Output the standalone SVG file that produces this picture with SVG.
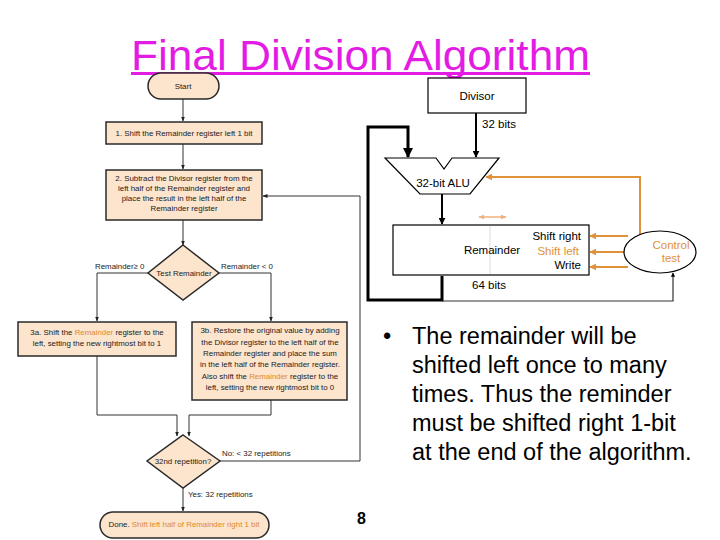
<svg xmlns="http://www.w3.org/2000/svg" width="720" height="540" viewBox="0 0 720 540">
<defs>
<style>
text{font-family:"Liberation Sans",Arial,sans-serif;}
.fc{fill:#fce4cd;stroke:#2a2a2a;stroke-width:1.5;}
.ft{font-size:7.9px;fill:#222;text-anchor:middle;}
.fl{font-size:7.9px;fill:#222;}
.or{fill:#e08a2c;}
.ln{stroke:#333;stroke-width:1;fill:none;}
.thk{stroke:#000;stroke-width:3;fill:none;}
.blk{stroke:#000;stroke-width:2;fill:none;}
.ol{stroke:#e0913a;stroke-width:2;fill:none;}
.dp{font-size:11.5px;fill:#000;}
.orf{fill:#e0913a;}
.bt{font-size:23.5px;fill:#000;}
</style>
<marker id="a" viewBox="0 0 10 10" refX="9" refY="5" markerWidth="5" markerHeight="5" orient="auto"><path d="M0,1 L10,5 L0,9 z" fill="#222"/></marker>
<marker id="ab" viewBox="0 0 10 10" refX="9" refY="5" markerWidth="3.5" markerHeight="3.5" orient="auto"><path d="M0,0 L10,5 L0,10 z" fill="#000"/></marker>
<marker id="ao" viewBox="0 0 10 10" refX="9" refY="5" markerWidth="3.5" markerHeight="3.5" orient="auto"><path d="M0,0 L10,5 L0,10 z" fill="#e0913a"/></marker>
<marker id="aos" viewBox="0 0 10 10" refX="9" refY="5" markerWidth="4" markerHeight="4" orient="auto-start-reverse"><path d="M0,1 L10,5 L0,9 z" fill="#f0b07a"/></marker>
</defs>
<rect width="720" height="540" fill="#fff"/>

<g id="title">
<text x="131" y="70" font-size="42" fill="#e31ce3" textLength="459" lengthAdjust="spacingAndGlyphs">Final Division Algorithm</text>
<rect x="131" y="72" width="459" height="3" fill="#e31ce3"/>
</g>

<g id="connectors">
<line class="ln" x1="183" y1="99" x2="183" y2="121" marker-end="url(#a)"/>
<line class="ln" x1="183" y1="144" x2="183" y2="169" marker-end="url(#a)"/>
<line class="ln" x1="183" y1="220" x2="183" y2="245" marker-end="url(#a)"/>
<polyline class="ln" points="148,273 97,273 97,321" marker-end="url(#a)"/>
<polyline class="ln" points="219,273 271,273 271,321" marker-end="url(#a)"/>
<polyline class="ln" points="97,356 97,415 177,415 177,436" marker-end="url(#a)"/>
<polyline class="ln" points="271,400 271,415 189,415 189,436" marker-end="url(#a)"/>
<polyline class="ln" points="220,461 360,461 360,196 263,196" marker-end="url(#a)"/>
<line class="ln" x1="183" y1="488" x2="183" y2="511" marker-end="url(#a)"/>
<!-- datapath -->
<line class="blk" x1="476" y1="113" x2="476" y2="157" marker-end="url(#ab)"/>
<polyline class="thk" points="442,276 442,300 368,300 368,127 408,127 408,157" marker-end="url(#ab)"/>
<line class="blk" x1="442" y1="194" x2="442" y2="224" marker-end="url(#ab)"/>
<polyline stroke="#333" stroke-width="1.2" fill="none" points="442,301 673,301 673,273" marker-end="url(#ab)"/>
<polyline class="ol" points="640,236 640,177 486,177" marker-end="url(#ao)"/>
<line class="ol" x1="628" y1="236" x2="590" y2="236" marker-end="url(#ao)"/>
<line class="ol" x1="624" y1="252" x2="590" y2="252" marker-end="url(#ao)"/>
<line class="ol" x1="628" y1="267" x2="590" y2="267" marker-end="url(#ao)"/>
<line stroke="#f0b07a" stroke-width="1.5" x1="479" y1="217" x2="506" y2="217" marker-start="url(#aos)" marker-end="url(#aos)"/>
</g>

<g id="start">
<rect class="fc" x="148" y="73" width="71" height="26" rx="13"/>
<text class="ft" x="183" y="89">Start</text>
</g>
<g id="step1">
<rect class="fc" x="106" y="122" width="156" height="22"/>
<text class="ft" x="184" y="136">1. Shift the Remainder register left 1 bit</text>
</g>
<g id="step2">
<rect class="fc" x="106" y="170" width="156" height="50"/>
<text class="ft" x="184" y="181">2. Subtract the Divisor register from the</text>
<text class="ft" x="184" y="191">left half of the Remainder register and</text>
<text class="ft" x="184" y="201">place the result in the left half of the</text>
<text class="ft" x="184" y="211">Remainder register</text>
</g>
<g id="test">
<polygon class="fc" points="183,245 219,273 183,300 148,273"/>
<text class="ft" x="184" y="276">Test Remainder</text>
<text class="fl" x="95" y="269">Remainder≥ 0</text>
<text class="fl" x="221" y="269">Remainder &lt; 0</text>
</g>
<g id="step3a">
<rect class="fc" x="18" y="322" width="158" height="34"/>
<text class="ft" x="97" y="335">3a. Shift the <tspan class="or">Remainder</tspan> register to the</text>
<text class="ft" x="97" y="346">left, setting the new rightmost bit to 1</text>
</g>
<g id="step3b">
<rect class="fc" x="192" y="322" width="155" height="78"/>
<text class="ft" x="270" y="333">3b. Restore the original value by adding</text>
<text class="ft" x="270" y="345">the Divisor register to the left half of the</text>
<text class="ft" x="270" y="356">Remainder register and place the sum</text>
<text class="ft" x="270" y="367">in the left half of the Remainder register.</text>
<text class="ft" x="270" y="379">Also shift the <tspan class="or">Remainder</tspan> register to the</text>
<text class="ft" x="270" y="390">left, setting the new rightmost bit to 0</text>
</g>
<g id="rep">
<polygon class="fc" points="183,435 220,461 183,488 147,461"/>
<text class="ft" x="183" y="464">32nd repetition?</text>
<text class="fl" x="222" y="456">No:  &lt; 32 repetitions</text>
<text class="fl" x="188" y="497">Yes:  32 repetitions</text>
</g>
<g id="done">
<rect class="fc" x="100" y="512" width="169" height="26" rx="13"/>
<text class="ft" x="184" y="527">Done. <tspan class="or">Shift left half of Remainder right 1 bit</tspan></text>
</g>

<g id="divisor">
<rect x="428" y="78" width="98" height="35" fill="#fff" stroke="#000" stroke-width="1.2"/>
<text class="dp" x="477" y="100" text-anchor="middle">Divisor</text>
<text class="dp" x="482" y="128">32 bits</text>
</g>
<g id="alu">
<polygon points="385,158 436,158 444,169 452,158 499,158 470,194 420,194" fill="#fff" stroke="#000" stroke-width="1.2"/>
<text class="dp" x="443" y="187" text-anchor="middle">32-bit ALU</text>
</g>
<g id="remainder">
<rect x="393" y="225" width="196" height="50" fill="#fff" stroke="#000" stroke-width="1.2"/>
<line x1="490" y1="226" x2="490" y2="274" stroke="#ddd" stroke-width="1"/>
<text class="dp" x="492" y="254" text-anchor="middle">Remainder</text>
<text class="dp" x="581" y="240" text-anchor="end">Shift right</text>
<text class="dp orf" x="579" y="255" text-anchor="end">Shift left</text>
<text class="dp" x="581" y="269" text-anchor="end">Write</text>
<text class="dp" x="472" y="289">64 bits</text>
</g>
<g id="control">
<ellipse cx="660" cy="252" rx="36" ry="21" fill="#fff" stroke="#000" stroke-width="1.2"/>
<text class="dp orf" x="671" y="249" text-anchor="middle">Control</text>
<text class="dp orf" x="671" y="262" text-anchor="middle">test</text>
</g>

<g id="bullet">
<text class="bt" x="383" y="344">•</text>
<text class="bt" x="412" y="344">The remainder will be</text>
<text class="bt" x="412" y="373">shifted left once to many</text>
<text class="bt" x="412" y="402">times. Thus the reminder</text>
<text class="bt" x="412" y="431">must be shifted right 1-bit</text>
<text class="bt" x="412" y="460">at the end of the algorithm.</text>
</g>
<text x="357" y="524" font-size="16" font-weight="bold">8</text>
</svg>
